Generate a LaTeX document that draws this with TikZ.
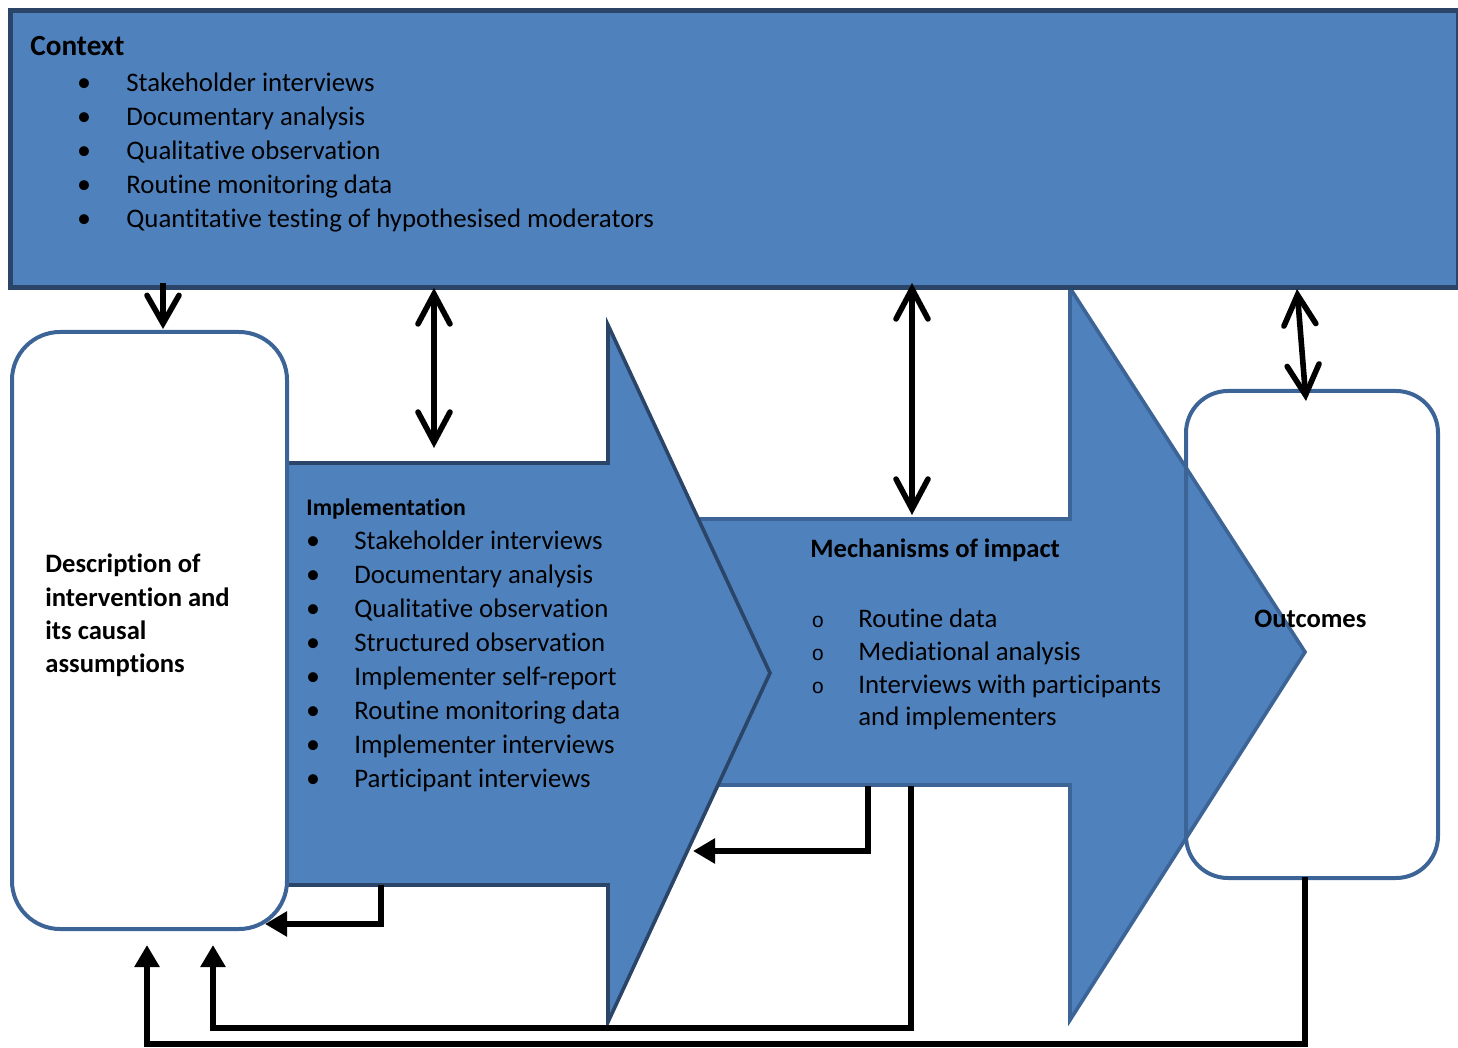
\documentclass[tikz,border=0pt]{standalone}
\usepackage{fontspec}
\setmainfont{Carlito}[Ligatures=NoCommon]
\newfontfamily\monofam{Liberation Mono}
\usetikzlibrary{arrows.meta}
\definecolor{fillblue}{HTML}{4F81BD}
\definecolor{darkedge}{HTML}{2B4568}
\definecolor{midedge}{HTML}{3C6496}
\begin{document}
\begin{tikzpicture}[x=0.5pt, y=-0.5pt,
  ctxbox/.style={draw=darkedge, fill=fillblue, line width=2.4pt, anchor=north west, inner sep=0pt},
  implarrow/.style={draw=darkedge, fill=fillblue, line width=1.8pt, line join=miter},
  mecharrow/.style={draw=midedge, fill=fillblue, line width=1.8pt, line join=miter},
  roundbox/.style={draw=midedge, line width=2pt, anchor=north west, inner sep=0pt},
  item/.style={anchor=base west, inner sep=0pt, font=\fontsize{13.4}{16}\selectfont},
  bul/.style={anchor=base, inner sep=0pt, font=\fontsize{14}{16}\selectfont},
  circbul/.style={anchor=base, inner sep=0pt, font=\monofam\fontsize{10.5}{12}\selectfont},
  title/.style={anchor=base west, inner sep=0pt, font=\bfseries\fontsize{13.3}{16}\selectfont},
  dblarrow/.style={line width=2.8pt,
     arrows={Straight Barb[length=15pt,width=16pt,line cap=round]-Straight Barb[length=15pt,width=16pt,line cap=round]}},
  onearrow/.style={line width=2.8pt,
     arrows={-Straight Barb[length=14pt,width=16pt,line cap=round]}},
  fbarrow/.style={line width=3pt, line join=miter, arrows={-Triangle[length=11pt,width=12pt]}}
]
\useasboundingbox (0,0) rectangle (1458,1048);

% Mechanisms of impact arrow (behind)
\draw[mecharrow] (640,519) -- (1070,519) -- (1070,288) -- (1305,652) -- (1070,1020) -- (1070,785) -- (640,785) -- cycle;
% Implementation arrow
\draw[implarrow] (285,463) -- (608,463) -- (608,325) -- (770,673) -- (608,1022) -- (608,885) -- (285,885) -- cycle;

% Description box
\node[roundbox, fill=white, rounded corners=24pt, minimum width=137.5pt, minimum height=298.5pt] (desc) at (10,330) {};
% Outcomes box (outline only, over the arrow)
\node[roundbox, rounded corners=21pt, minimum width=126pt, minimum height=243.5pt] (outc) at (1184,389) {};

% Context box
\node[ctxbox, minimum width=724pt, minimum height=138.5pt] (ctx) at (8,8) {};

% connection points
\coordinate (ctxA) at (163,283);
\coordinate (descTop) at (163,329);
\coordinate (ctxB) at (434,288);
\coordinate (implTop) at (434,448);
\coordinate (ctxC) at (912,283);
\coordinate (mechTop) at (912,515);
\coordinate (ctxD) at (1297,289);
\coordinate (outcTop) at (1306,401);
\coordinate (implBot) at (381,885);
\coordinate (descCorner) at (265,924);
\coordinate (mechBotA) at (868,786);
\coordinate (implHead) at (693,851);
\coordinate (mechBotB) at (911,786);
\coordinate (descBotA) at (213,945);
\coordinate (outcBot) at (1305,877);
\coordinate (descBotB) at (147,945);

% vertical arrows
\draw[onearrow] (ctxA) -- (descTop);
\draw[dblarrow] (ctxB) -- (implTop);
\draw[dblarrow] (ctxC) -- (mechTop);
\draw[dblarrow] (ctxD) -- (outcTop);

% feedback arrows
\draw[fbarrow] (implBot) |- (descCorner);
\draw[fbarrow] (mechBotA) |- (implHead);
\draw[fbarrow] (mechBotB) -- (911,1028) -| (descBotA);
\draw[fbarrow] (outcBot) -- (1305,1044) -| (descBotB);

% Context text
\node[title, font=\bfseries\fontsize{14.6}{16}\selectfont] (ctxT) at (30,56) {Context};
\foreach \t [count=\i from 0] in {Stakeholder interviews, Documentary analysis, Qualitative observation, Routine monitoring data, Quantitative testing of hypothesised moderators} {
  \node[bul] (ctxb\i) at (84,{91.5+34*\i}) {\textbullet};
  \node[item] (ctxi\i) at (126,{91.5+34*\i}) {\t};
}

% Implementation text
\node[title, font=\bfseries\fontsize{11.9}{14}\selectfont] (implT) at (306,516) {Implementation};
\foreach \t [count=\i from 0] in {Stakeholder interviews, Documentary analysis, Qualitative observation, Structured observation, Implementer self-report, Routine monitoring data, Implementer interviews, Participant interviews} {
  \node[bul] (implb\i) at (313,{549+34*\i}) {\textbullet};
  \node[item] (impli\i) at (354,{549+34*\i}) {\t};
}

% Mechanisms text
\node[title] (mechT) at (810,558) {Mechanisms of impact};
\foreach \t [count=\i from 0] in {Routine data, Mediational analysis, Interviews with participants} {
  \node[circbul] (mechb\i) at (818,{627+33*\i}) {o};
  \node[item] (mechi\i) at (858,{627+33*\i}) {\t};
}
\node[item] (mechi3) at (858,725) {and implementers};

% Description text
\foreach \t [count=\i from 0] in {Description of, intervention and, its causal, assumptions} {
  \node[title] (desc\i) at (45,{573+33*\i}) {\t};
}

% Outcomes text
\node[title] (outcT) at (1254,627) {Outcomes};
\end{tikzpicture}
\end{document}
